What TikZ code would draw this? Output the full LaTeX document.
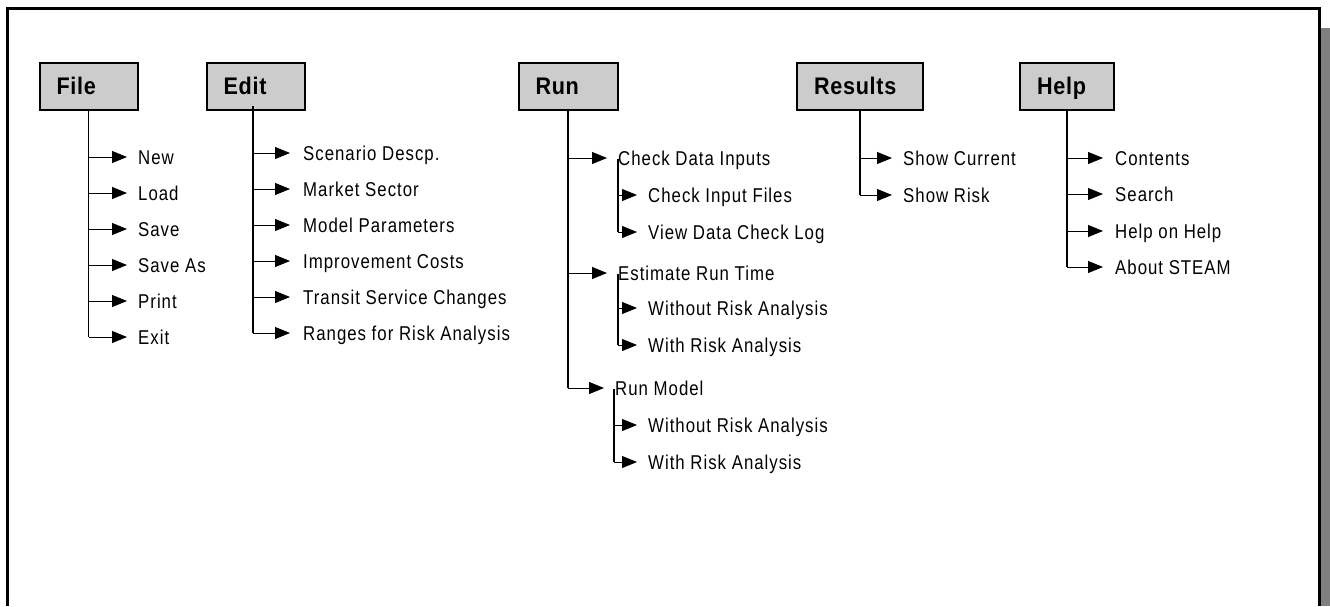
\documentclass[tikz,border=0pt]{standalone}
\usepackage{fontspec}
\usetikzlibrary{arrows.meta}
\newfontfamily\itemfont{Liberation Sans}[FakeStretch=0.84,LetterSpace=5]
\newfontfamily\headfont{Liberation Sans}[FakeStretch=0.9,LetterSpace=3]
\definecolor{boxgray}{RGB}{204,204,204}
\definecolor{shadowgray}{RGB}{128,128,128}
\tikzset{
  menubox/.style={draw=black, line width=2pt, fill=boxgray, inner xsep=17pt, inner ysep=0pt,
    minimum height=47pt, text height=17pt, text depth=0pt, align=left,
    font=\headfont\bfseries\fontsize{24}{27}\selectfont},
  item/.style={anchor=west, inner sep=0pt, text height=14.3pt, text depth=0pt,
    font=\itemfont\fontsize{20}{23}\selectfont},
  trunk/.style={line width=1.8pt},
  subtrunk/.style={line width=1.3pt},
  branch/.style={line width=0.9pt, -{Triangle[length=15pt,width=12pt]}, shorten >=11pt},
}
\begin{document}
\begin{tikzpicture}[x=1pt,y=-1pt]
\useasboundingbox (0,0) rectangle (1330,606);
% frame and shadow
\fill[shadowgray] (1321,28) rectangle (1330,606);
\draw[line width=3pt] (7,606) -- (7,8) -- (1319,8) -- (1319,606);

% ---- File ----
\node[menubox, text width=64pt] (file) at (88.5,86) {File};
\node[item] (new)    at (138,157) {New};
\node[item] (load)   at (138,193) {Load};
\node[item] (save)   at (138,229) {Save};
\node[item] (saveas) at (138,265) {Save As};
\node[item] (print)  at (138,301) {Print};
\node[item] (exit)   at (138,337) {Exit};
\draw[trunk] (file.south) -- (file.south |- exit.west);
\foreach \n in {new,load,save,saveas,print,exit}
  \draw[branch] (file.south |- \n.west) -- (\n.west);

% ---- Edit ----
\node[menubox, text width=64pt] (edit) at (255.5,86) {Edit};
\node[item] (scen)  at (303,153) {Scenario Descp.};
\node[item] (mkt)   at (303,189) {Market Sector};
\node[item] (mpar)  at (303,225) {Model Parameters};
\node[item] (impr)  at (303,261) {Improvement Costs};
\node[item] (trans) at (303,297) {Transit Service Changes};
\node[item] (rng)   at (303,333) {Ranges for Risk Analysis};
\coordinate (etop) at (253,106);
\draw[trunk] (etop) -- (etop |- rng.west);
\foreach \n in {scen,mkt,mpar,impr,trans,rng}
  \draw[branch, shorten >=13pt] (etop |- \n.west) -- (\n.west);

% ---- Run ----
\node[menubox, text width=65pt] (run) at (568,86) {Run};
\node[item] (cdi)  at (618,158) {Check Data Inputs};
\node[item] (cif)  at (648,195) {Check Input Files};
\node[item] (vdc)  at (648,232) {View Data Check Log};
\node[item] (ert)  at (618,273) {Estimate Run Time};
\node[item] (ewo)  at (648,308) {Without Risk Analysis};
\node[item] (ewi)  at (648,345) {With Risk Analysis};
\node[item] (rm)   at (615,388) {Run Model};
\node[item] (rwo)  at (648,425) {Without Risk Analysis};
\node[item] (rwi)  at (648,462) {With Risk Analysis};
\draw[trunk] (run.south) -- (run.south |- rm.west);
\foreach \n in {cdi,ert,rm}
  \draw[branch] (run.south |- \n.west) -- (\n.west);
% sub menus
\draw[subtrunk] ([yshift=6pt]cdi.south west) -- (cdi.south west |- vdc.west);
\foreach \n in {cif,vdc}
  \draw[branch] (cdi.south west |- \n.west) -- (\n.west);
\draw[subtrunk] ([yshift=6pt]ert.south west) -- (ert.south west |- ewi.west);
\foreach \n in {ewo,ewi}
  \draw[branch] (ert.south west |- \n.west) -- (\n.west);
\draw[subtrunk] ([xshift=-1pt,yshift=6pt]rm.south west) -- ([xshift=-1pt]rm.south west |- rwi.west);
\foreach \n in {rwo,rwi}
  \draw[branch] ([xshift=-1pt]rm.south west |- \n.west) -- (\n.west);

% ---- Results ----
\node[menubox, text width=92pt] (res) at (860,86) {Results};
\node[item] (shc) at (903,158) {Show Current};
\node[item] (shr) at (903,195) {Show Risk};
\draw[trunk] (res.south) -- (res.south |- shr.west);
\foreach \n in {shc,shr}
  \draw[branch] (res.south |- \n.west) -- (\n.west);

% ---- Help ----
\node[menubox, text width=60pt] (help) at (1067,86) {Help};
\node[item] (cont) at (1115,158) {Contents};
\node[item] (srch) at (1115,194) {Search};
\node[item] (hoh)  at (1115,231) {Help on Help};
\node[item] (abt)  at (1115,267) {About STEAM};
\draw[trunk] (help.south) -- (help.south |- abt.west);
\foreach \n in {cont,srch,hoh,abt}
  \draw[branch, shorten >=12pt] (help.south |- \n.west) -- (\n.west);
\end{tikzpicture}
\end{document}
